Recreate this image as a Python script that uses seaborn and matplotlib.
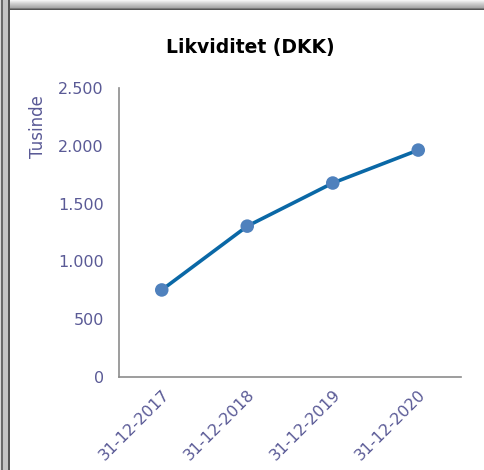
import numpy as np
import pandas as pd
import matplotlib
matplotlib.use("Agg")
import matplotlib.pyplot as plt
from matplotlib.patches import Rectangle
import seaborn as sns

# data
datoer = ["31-12-2017", "31-12-2018", "31-12-2019", "31-12-2020"]
likviditet = [753, 1305, 1678, 1963]
yticks = [0, 500, 1000, 1500, 2000, 2500]
ytick_labels = ["0", "500", "1.000", "1.500", "2.000", "2.500"]

df = pd.DataFrame({"dato": datoer, "likviditet": likviditet})

sns.set_style("white")
plt.rcParams["font.family"] = ["DejaVu Sans"]
tekst_farve = "#5a5a96"

W, H = 484, 470
fig = plt.figure(figsize=(W / 100, H / 100), dpi=100)
fig.patch.set_facecolor("white")

# ramme / skygge
def px_rect(x, y, w, h, color):
    fig.patches.append(Rectangle((x / W, 1 - (y + h) / H), w / W, h / H,
                                 transform=fig.transFigure, color=color,
                                 lw=0, zorder=-10))

for i, c in enumerate(["#f4f4f4", "#e8e8e8", "#dcdcdc", "#d0d0d0", "#c6c6c6",
                       "#bcbcbc", "#b2b2b2", "#a8a8a8", "#7a7a7a", "#555555"]):
    px_rect(0, i, W, 1, c)
px_rect(0, 0, 1, H, "#d8d8d8")
px_rect(1, 0, 1.5, H, "#6a6a6a")
px_rect(2.5, 0, 5.5, H, "#c4c4c4")
px_rect(8, 0, 2, H, "#555555")

ax = fig.add_axes([119 / W, 1 - 377 / H, 342 / W, 289 / H])
sns.lineplot(data=df, x="dato", y="likviditet", ax=ax, color="#0a68a6",
             lw=2.6, sort=False)
sns.scatterplot(data=df, x="dato", y="likviditet", ax=ax, color="#4f81bd",
                s=95, edgecolor="none", linewidth=0, zorder=5)

ax.set_xlim(-0.5, 3.5)
ax.set_ylim(0, 2500)
ax.set_yticks(yticks)
ax.set_yticklabels(ytick_labels)
ax.set_xlabel("")
ax.set_ylabel("")
sns.despine(ax=ax)
for s in ["left", "bottom"]:
    ax.spines[s].set_color("#8c8c8c")
    ax.spines[s].set_linewidth(1.2)
ax.tick_params(axis="both", length=0, colors=tekst_farve, labelsize=11.5)
ax.tick_params(axis="y", pad=11)
ax.tick_params(axis="x", pad=7)
plt.setp(ax.get_xticklabels(), rotation=45, ha="right", rotation_mode="anchor")

fig.text(250 / W, 1 - 47 / H, "Likviditet (DKK)", ha="center", va="center",
         fontsize=13.5, fontweight="bold", color="black")
fig.text(38 / W, 1 - 127 / H, "Tusinde", ha="center", va="center",
         rotation=90, fontsize=12, color=tekst_farve)

fig.savefig("out.png", dpi=100)
